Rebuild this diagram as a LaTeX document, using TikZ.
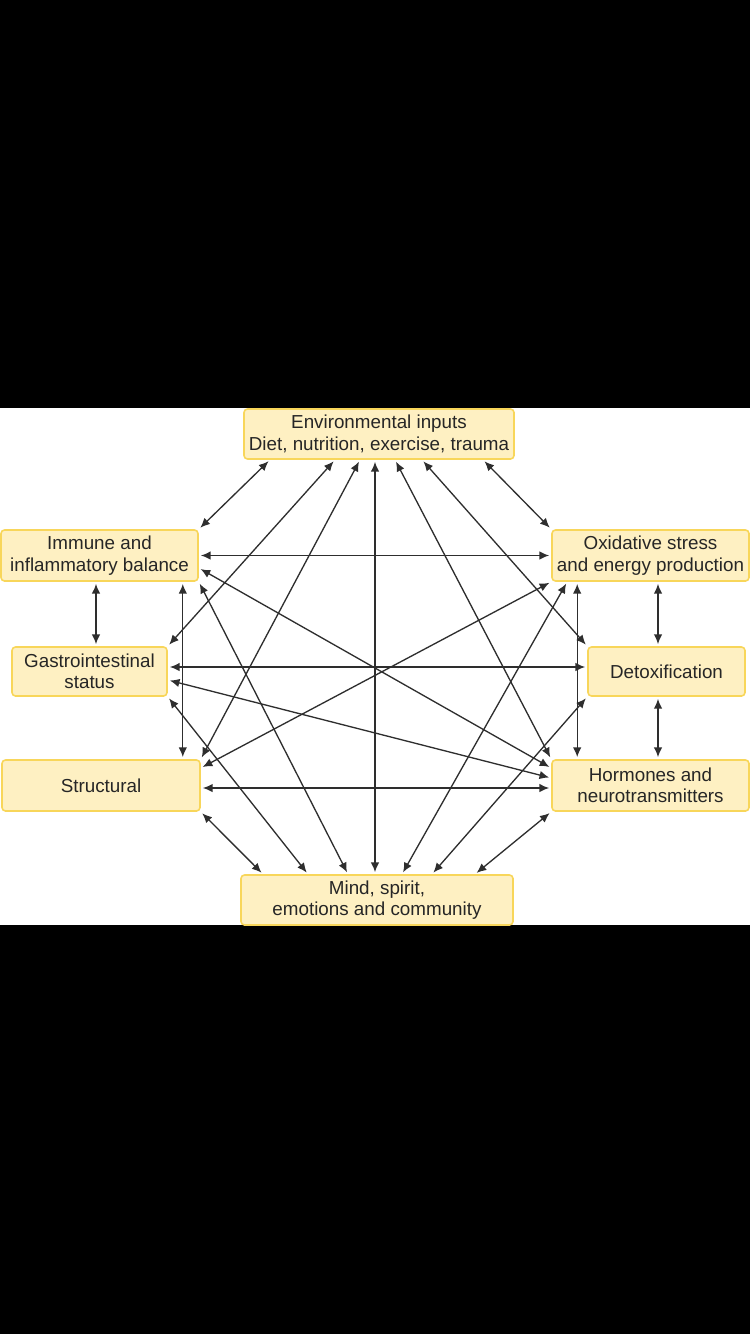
\documentclass[tikz,border=0pt]{standalone}
\usepackage{fontspec}
\setmainfont{Liberation Sans}
\usepackage{tikz}
\usetikzlibrary{arrows.meta,positioning,calc}
\definecolor{boxfill}{HTML}{FEF0C2}
\definecolor{boxline}{HTML}{F8D65A}
\definecolor{linkgray}{HTML}{2E2E2E}
\newcommand{\tip}{Latex[length=5.5pt,width=4.8pt]}

\begin{document}
\begin{tikzpicture}[
  factor/.style={draw=boxline, fill=boxfill, line width=0.9pt, rounded corners=2pt, align=center,
    inner sep=0pt, font=\fontsize{10.7}{12.2}\selectfont, text=black!85},
  link/.style={{\tip}-{\tip}, draw=linkgray, line width=0.75pt, shorten <=1.2pt, shorten >=1.2pt}]
    \useasboundingbox (0,0) rectangle (15,-26.68);
    \fill[black] (0,0) rectangle (15,-26.68);
    \fill[white] (0,-8.16) rectangle (15,-18.5);
    \node[factor, minimum width=5.4cm, minimum height=1cm] (env) at (7.58,-8.68) {Environmental inputs\\Diet, nutrition, exercise, trauma};
    \node[factor, minimum width=3.94cm, minimum height=1.02cm] (imm) at (1.99,-11.11) {Immune and\\inflammatory balance};
    \node[factor, minimum width=3.94cm, minimum height=1.02cm] (oxi) at (13.01,-11.11) {Oxidative stress\\and energy production};
    \node[factor, minimum width=3.1cm, minimum height=0.98cm] (gi) at (1.79,-13.43) {Gastrointestinal\\status};
    \node[factor, minimum width=3.14cm, minimum height=0.98cm] (det) at (13.33,-13.43) {Detoxification};
    \node[factor, minimum width=3.96cm, minimum height=1.02cm] (str) at (2.02,-15.71) {Structural};
    \node[factor, minimum width=3.94cm, minimum height=1.02cm] (hor) at (13.01,-15.71) {Hormones and\\neurotransmitters};
    \node[factor, minimum width=5.44cm, minimum height=1cm] (mnd) at (7.54,-18.0) {Mind, spirit,\\emotions and community};
    % from the inputs box
    \draw[link] ([xshift=-2.18cm]env.south) -- (imm.north east);
    \draw[link] ([xshift=-0.88cm]env.south) -- (gi.north east);
    \draw[link] ([xshift=-0.38cm]env.south) -- (str.north east);
    \draw[link] ([xshift=-0.08cm]env.south) -- ([xshift=-0.08cm]env.south |- mnd.north);
    \draw[link] ([xshift=0.32cm]env.south) -- (hor.north west);
    \draw[link] ([xshift=0.86cm]env.south) -- (det.north west);
    \draw[link] ([xshift=2.08cm]env.south) -- (oxi.north west);
    % into the mind box
    \draw[link] (str.south east) -- ([xshift=-2.28cm]mnd.north);
    \draw[link] (gi.south east) -- ([xshift=-1.38cm]mnd.north);
    \draw[link] (imm.south east) -- ([xshift=-0.58cm]mnd.north);
    \draw[link] ([xshift=0.32cm]oxi.south west) -- ([xshift=0.5cm]mnd.north);
    \draw[link] (det.south west) -- ([xshift=1.1cm]mnd.north);
    \draw[link] (hor.south west) -- ([xshift=1.96cm]mnd.north);
    % across
    \draw[link] (imm.east) -- (oxi.west);
    \draw[link] ([yshift=0.09cm]gi.east) -- ([yshift=0.09cm]gi.east -| det.west);
    \draw[link] ([yshift=-0.05cm]str.east) -- ([yshift=-0.05cm]str.east -| hor.west);
    \draw[link] ([yshift=-0.25cm]imm.east) -- ([yshift=0.35cm]hor.west);
    \draw[link] ([yshift=-0.17cm]gi.east) -- ([yshift=0.15cm]hor.west);
    \draw[link] ([yshift=0.35cm]str.east) -- (oxi.south west);
    % down the sides
    \draw[link] ([xshift=-0.07cm]imm.south) -- ([xshift=-0.07cm]imm.south |- gi.north);
    \draw[link] ([xshift=-0.32cm]imm.south east) -- ([xshift=-0.32cm]imm.south east |- str.north);
    \draw[link] ([xshift=0.52cm]oxi.south west) -- ([xshift=0.52cm]oxi.south west |- hor.north);
    \draw[link] ([xshift=-0.17cm]det.north |- oxi.south) -- ([xshift=-0.17cm]det.north);
    \draw[link] ([xshift=-0.17cm]det.south) -- ([xshift=-0.17cm]det.south |- hor.north);
\end{tikzpicture}
\end{document}
